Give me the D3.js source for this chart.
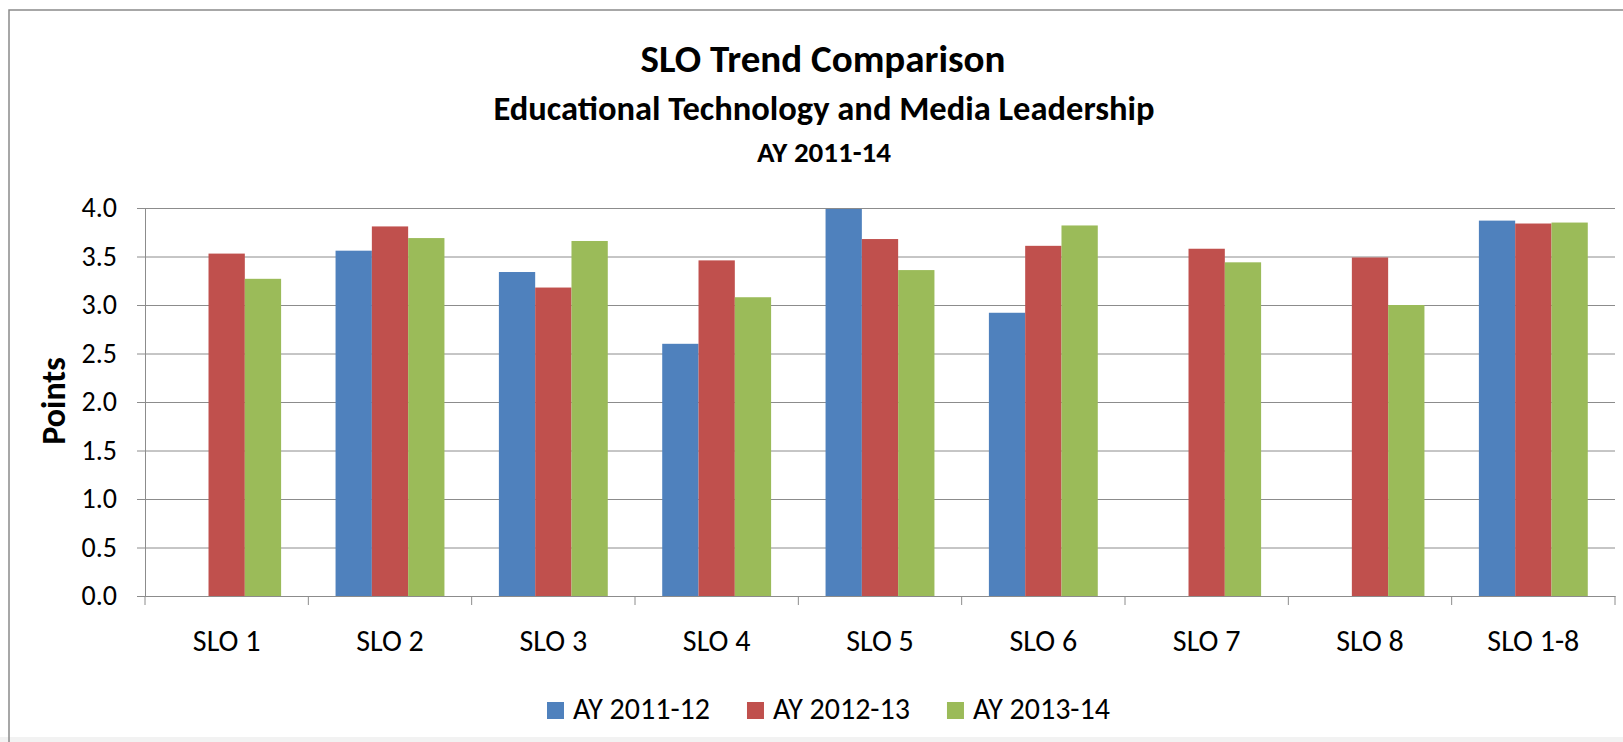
<!DOCTYPE html>
<html>
<head>
<meta charset="utf-8">
<script src="https://cdn.jsdelivr.net/npm/d3@7"></script>
<style>
  body { margin: 0; background: #fff; }
  text { font-family: Carlito, Calibri, Lato, sans-serif; fill: #000; }
</style>
</head>
<body>
<script>
'use strict';

const categories = ['SLO 1', 'SLO 2', 'SLO 3', 'SLO 4', 'SLO 5', 'SLO 6', 'SLO 7', 'SLO 8', 'SLO 1-8'];
const seriesNames = ['AY 2011-12', 'AY 2012-13', 'AY 2013-14'];
const ay1112 = [null, 3.56, 3.34, 2.60, 3.99, 2.92, null, null, 3.87];
const ay1213 = [3.53, 3.81, 3.18, 3.46, 3.68, 3.61, 3.58, 3.49, 3.84];
const ay1314 = [3.27, 3.69, 3.66, 3.08, 3.36, 3.82, 3.44, 3.00, 3.85];
const seriesColors = ['#4f81bd', '#c0504d', '#9bbb59'];
const yTicks = [0, 0.5, 1.0, 1.5, 2.0, 2.5, 3.0, 3.5, 4.0];

const width = 1623, height = 742;
const plotLeft = 145, plotRight = 1615, plotTop = 208, plotBottom = 596;

let svg = d3.select('body').append('svg')
  .attr('width', width)
  .attr('height', height);

// chart frame
svg.append('rect')
  .attr('x', 0).attr('y', 737)
  .attr('width', width).attr('height', 5)
  .attr('fill', '#f2f2f2');
svg.append('path')
  .attr('d', 'M9,742 V10 H' + width)
  .attr('fill', 'none')
  .attr('stroke', '#8a8a8a')
  .attr('stroke-width', 1.5);

let allSeries = [ay1112, ay1213, ay1314];
let rows = [];
categories.forEach((c, i) => {
  allSeries.forEach((s, j) => {
    if (s[i] != null) rows.push({ cat: c, series: seriesNames[j], value: s[i], color: seriesColors[j] });
  });
});

let x = d3.scaleBand().domain(categories).range([plotLeft, plotRight]);
let barW = x.bandwidth() / (seriesNames.length + 1.5); // excel gap width 150%
let x1 = d3.scaleBand().domain(seriesNames)
  .range([0.75 * barW, x.bandwidth() - 0.75 * barW]);
let y = d3.scaleLinear().domain([0, 4]).range([plotBottom, plotTop]);

// gridlines + y axis
let yAxis = d3.axisLeft(y)
  .tickValues(yTicks)
  .tickFormat(d3.format('.1f'))
  .tickSize(-(plotRight - plotLeft))
  .tickPadding(28);
let gy = svg.append('g')
  .attr('transform', 'translate(' + plotLeft + ',0)')
  .call(yAxis);
gy.select('.domain').attr('stroke', '#8c8c8c');
gy.selectAll('.tick line')
  .attr('x1', -8)
  .attr('stroke', '#8c8c8c');
gy.selectAll('.tick text')
  .style('font-size', '28px');

// bars
svg.selectAll('.bar')
  .data(rows)
  .enter()
  .append('rect')
    .attr('class', 'bar')
    .attr('x', d => x(d.cat) + x1(d.series))
    .attr('y', d => y(d.value))
    .attr('width', x1.bandwidth())
    .attr('height', d => plotBottom - y(d.value))
    .attr('fill', d => d.color);

// x axis
let xAxis = d3.axisBottom(x).tickSize(0).tickPadding(34);
let gx = svg.append('g')
  .attr('transform', 'translate(0,' + plotBottom + ')')
  .call(xAxis);
gx.select('.domain').attr('stroke', '#8c8c8c');
gx.selectAll('.tick text').style('font-size', '30px');

let boundaries = categories.map(c => x(c)).concat([plotRight]);
gx.selectAll('.bound')
  .data(boundaries)
  .enter()
  .append('line')
    .attr('x1', d => d).attr('x2', d => d)
    .attr('y1', 0).attr('y2', 9)
    .attr('stroke', '#8c8c8c');

// titles
svg.append('text')
  .attr('x', 823).attr('y', 72)
  .attr('text-anchor', 'middle')
  .style('font-size', '39px')
  .style('font-weight', 'bold')
  .text('SLO Trend Comparison');
svg.append('text')
  .attr('x', 824).attr('y', 120)
  .attr('text-anchor', 'middle')
  .style('font-size', '34.5px')
  .style('font-weight', 'bold')
  .text('Educational Technology and Media Leadership');
svg.append('text')
  .attr('x', 824).attr('y', 162)
  .attr('text-anchor', 'middle')
  .style('font-size', '29px')
  .style('font-weight', 'bold')
  .text('AY 2011-14');

svg.append('text')
  .attr('transform', 'translate(65, 401) rotate(-90)')
  .attr('text-anchor', 'middle')
  .style('font-size', '34px')
  .style('font-weight', 'bold')
  .text('Points');

// legend
let legend = svg.append('g').attr('transform', 'translate(0, 719)');
let lx = 547;
seriesNames.forEach((name, i) => {
  legend.append('rect')
    .attr('x', lx).attr('y', -17)
    .attr('width', 17).attr('height', 17)
    .attr('fill', seriesColors[i]);
  let t = legend.append('text')
    .attr('x', lx + 26).attr('y', 0)
    .style('font-size', '30px')
    .text(name);
  lx += 26 + t.node().getComputedTextLength() + 37;
});
</script>
</body>
</html>
